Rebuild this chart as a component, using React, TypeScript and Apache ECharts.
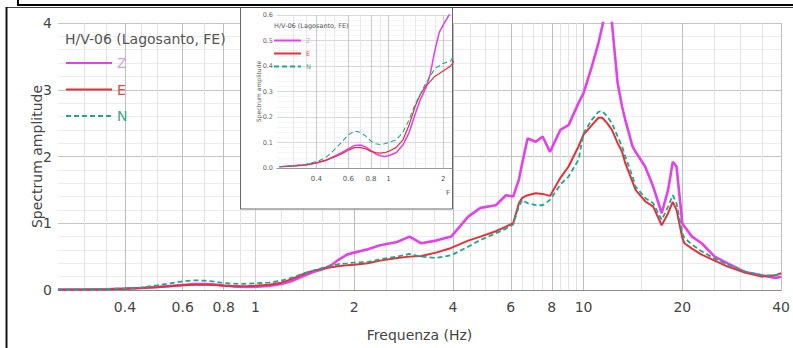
import React, { useEffect, useRef } from 'react';
import * as echarts from 'echarts';

const freq = [0.25, 0.3, 0.35, 0.4, 0.45, 0.5, 0.55, 0.6, 0.65, 0.7, 0.75, 0.8, 0.85, 0.9, 0.95, 1.0, 1.1, 1.2, 1.3, 1.4, 1.5, 1.6, 1.7, 1.8, 1.9, 2.0, 2.2, 2.4, 2.7, 2.95, 3.2, 3.55, 3.95, 4.45, 4.85, 5.4, 5.8, 6.1, 6.35, 6.5, 6.75, 7.15, 7.5, 7.9, 8.5, 9.0, 9.65, 10.0, 10.6, 11.1, 11.4, 11.8, 12.2, 12.7, 13.1, 13.4, 14.1, 14.4, 15.4, 16.3, 17.3, 18.1, 18.7, 19.2, 20.0, 20.3, 21.4, 22.9, 25.1, 27.5, 31, 34.9, 38.5, 40];
const ampZ = [0.005, 0.008, 0.012, 0.02, 0.03, 0.045, 0.06, 0.075, 0.088, 0.09, 0.082, 0.068, 0.055, 0.048, 0.045, 0.048, 0.06, 0.09, 0.14, 0.21, 0.27, 0.31, 0.37, 0.46, 0.53, 0.56, 0.61, 0.67, 0.72, 0.8, 0.7, 0.74, 0.8, 1.1, 1.23, 1.27, 1.42, 1.4, 1.65, 1.9, 2.27, 2.22, 2.3, 2.07, 2.4, 2.47, 2.8, 2.95, 3.35, 3.7, 3.95, 4.3, 4.0, 3.1, 2.75, 2.55, 2.15, 2.07, 1.85, 1.55, 1.15, 1.5, 1.92, 1.85, 1.0, 0.95, 0.8, 0.7, 0.5, 0.4, 0.27, 0.22, 0.18, 0.2];
const ampE = [0.005, 0.008, 0.012, 0.02, 0.03, 0.042, 0.055, 0.07, 0.08, 0.08, 0.075, 0.065, 0.06, 0.058, 0.06, 0.065, 0.08, 0.11, 0.17, 0.24, 0.29, 0.32, 0.34, 0.36, 0.37, 0.38, 0.4, 0.44, 0.48, 0.5, 0.51, 0.56, 0.63, 0.74, 0.8, 0.88, 0.95, 1.0, 1.3, 1.38, 1.42, 1.45, 1.44, 1.41, 1.68, 1.85, 2.15, 2.33, 2.47, 2.58, 2.58, 2.5, 2.4, 2.2, 2.07, 1.9, 1.62, 1.5, 1.33, 1.25, 0.97, 1.15, 1.32, 1.2, 0.78, 0.7, 0.62, 0.53, 0.44, 0.35, 0.26, 0.2, 0.22, 0.25];
const ampN = [0.005, 0.01, 0.015, 0.025, 0.04, 0.07, 0.1, 0.13, 0.145, 0.14, 0.125, 0.105, 0.095, 0.092, 0.095, 0.1, 0.11, 0.14, 0.19, 0.25, 0.29, 0.33, 0.36, 0.39, 0.4, 0.41, 0.42, 0.46, 0.5, 0.54, 0.5, 0.48, 0.52, 0.65, 0.75, 0.85, 0.92, 0.98, 1.25, 1.35, 1.3, 1.27, 1.27, 1.35, 1.58, 1.7, 1.95, 2.35, 2.55, 2.67, 2.68, 2.6, 2.5, 2.3, 2.15, 2.0, 1.7, 1.55, 1.38, 1.3, 1.05, 1.25, 1.42, 1.3, 0.85, 0.78, 0.68, 0.58, 0.47, 0.38, 0.28, 0.22, 0.22, 0.25];

const mainLabelFreqs = [0.4, 0.6, 0.8, 1, 2, 4, 6, 8, 10, 20, 40];
const gridFreqs = [0.3, 0.35, 0.4, 0.45, 0.5, 0.6, 0.7, 0.8, 0.9, 1, 1.2, 1.4, 1.6, 1.8, 2, 2.5, 3, 3.5, 4, 4.5, 5, 5.5, 6, 6.5, 7, 7.5, 8, 8.5, 9, 9.5, 10, 15, 20, 25, 30, 35, 40];
const insetLabelFreqs = [0.4, 0.6, 0.8, 1, 2];

const L = (f: number) => Math.log10(f);
const fmtFreq = (v: number) => String(Number(Math.pow(10, v).toPrecision(2)));
const FONT = 'DejaVu Sans';

const colZ = '#e044e6';
const colE = '#e5303c';
const colN = '#22a688';

function pairs(vals: number[], maxF: number) {
  const out: number[][] = [];
  for (let i = 0; i < freq.length; i++) {
    if (freq[i] <= maxF) out.push([L(freq[i]), vals[i]]);
  }
  return out;
}

export default function App() {
  const ref = useRef<HTMLDivElement>(null);
  useEffect(() => {
    if (!ref.current) return;
    const chart = echarts.init(ref.current, null, { renderer: 'svg' });
    const mainMin = L(0.25);
    const mainMax = L(40);
    const insMin = -0.615;
    const insMax = 0.35;
    const mainGrid = gridFreqs.filter((f) => L(f) >= mainMin && L(f) <= mainMax);
    const insGrid = gridFreqs.filter((f) => L(f) >= insMin && L(f) <= insMax);
    const gridColors = (arr: number[]) =>
      arr.map((f) => (mainLabelFreqs.indexOf(f) >= 0 ? '#bdbdbd' : '#e3e3e3'));

    const styleZ = { color: colZ, width: 2.6 };
    const styleE = { color: colE, width: 2 };
    const styleN = { color: colN, width: 1.8, type: [5, 3] as any };

    const mk = (name: string, vals: number[], ls: any, axis: number, maxF: number, z: number) => ({
      type: 'line',
      name,
      xAxisIndex: axis,
      yAxisIndex: axis,
      data: pairs(vals, maxF),
      showSymbol: false,
      symbol: 'none',
      lineStyle: axis === 1 ? { ...ls, width: ls.width * 0.6 } : ls,
      itemStyle: { color: ls.color },
      z,
      silent: true,
    });

    const hiddenSymbol = { color: 'transparent', borderColor: 'transparent', borderWidth: 0, opacity: 0 };

    chart.setOption({
      animation: false,
      title: [
        {
          text: 'H/V-06 (Lagosanto, FE)',
          left: 65,
          top: 32,
          padding: 0,
          textStyle: { fontFamily: FONT, fontSize: 14, fontWeight: 'normal', color: '#555' },
        },
        {
          text: 'H/V-06 (Lagosanto, FE)',
          left: 274,
          top: 22,
          padding: 0,
          z: 6,
          textStyle: { fontFamily: FONT, fontSize: 6.5, fontWeight: 'normal', color: '#555' },
        },
      ],
      legend: [
        {
          orient: 'vertical',
          left: 65,
          top: 56,
          padding: 0,
          itemWidth: 46,
          itemHeight: 14,
          itemGap: 12.5,
          selectedMode: false,
          itemStyle: hiddenSymbol,
          textStyle: { fontFamily: FONT, fontSize: 14 },
          data: [
            { name: 'Z', textStyle: { color: '#d79ee0' } },
            { name: 'E', textStyle: { color: '#e54848' } },
            { name: 'N', textStyle: { color: '#38a98a' } },
          ],
        },
        {
          orient: 'vertical',
          left: 273,
          top: 37,
          padding: 0,
          itemWidth: 27,
          itemHeight: 8,
          itemGap: 6,
          selectedMode: false,
          itemStyle: hiddenSymbol,
          z: 6,
          textStyle: { fontFamily: FONT, fontSize: 6.5 },
          data: [
            { name: 'Z', textStyle: { color: '#d79ee0' } },
            { name: 'E', textStyle: { color: '#e54848' } },
            { name: 'N', textStyle: { color: '#38a98a' } },
          ],
        },
      ],
      grid: [
        { left: 58, right: 6, top: 23, bottom: 58 },
        { left: 277, right: 341, top: 15, bottom: 180, z: 3 },
      ],
      xAxis: [
        {
          type: 'value',
          gridIndex: 0,
          min: mainMin,
          max: mainMax,
          name: 'Frequenza (Hz)',
          nameLocation: 'middle',
          nameGap: 38,
          nameMoveOverlap: false,
          nameTextStyle: { fontFamily: FONT, fontSize: 14, color: '#444' },
          axisLine: { show: true, lineStyle: { color: '#8a8a8a' } },
          axisTick: { show: false, customValues: mainGrid.map(L) },
          axisLabel: {
            customValues: mainLabelFreqs.map(L),
            formatter: fmtFreq,
            fontFamily: FONT,
            fontSize: 14,
            color: '#444',
            margin: 10,
          },
          splitLine: { show: true, lineStyle: { color: gridColors(mainGrid), width: 1 } },
        },
        {
          type: 'value',
          gridIndex: 1,
          min: insMin,
          max: insMax,
          z: 3,
          axisLine: { show: true, lineStyle: { color: '#999' } },
          axisTick: { show: false, customValues: insGrid.map(L) },
          axisLabel: {
            customValues: insetLabelFreqs.map(L),
            formatter: fmtFreq,
            fontFamily: FONT,
            fontSize: 7,
            color: '#555',
            margin: 7,
          },
          splitLine: { show: true, lineStyle: { color: gridColors(insGrid), width: 0.8 } },
        },
      ],
      yAxis: [
        {
          type: 'value',
          gridIndex: 0,
          min: 0,
          max: 4,
          interval: 1,
          name: 'Spectrum amplitude',
          nameLocation: 'middle',
          nameGap: 14,
          nameMoveOverlap: false,
          nameTextStyle: { fontFamily: FONT, fontSize: 14, color: '#444' },
          axisLine: { show: true, lineStyle: { color: '#d0d0d0' } },
          axisTick: { show: false },
          axisLabel: { fontFamily: FONT, fontSize: 14, color: '#444', margin: 6 },
          splitLine: { show: true, lineStyle: { color: '#c4c4c4' } },
          minorTick: { show: false, splitNumber: 5 },
          minorSplitLine: { show: true, lineStyle: { color: '#ececec' } },
        },
        {
          type: 'value',
          gridIndex: 1,
          min: 0,
          max: 0.6,
          interval: 0.1,
          z: 3,
          name: 'Spectrum amplitude',
          nameLocation: 'middle',
          nameGap: 16,
          nameMoveOverlap: false,
          nameTextStyle: { fontFamily: FONT, fontSize: 6, color: '#555' },
          axisLine: { show: false },
          axisTick: { show: false },
          axisLabel: {
            fontFamily: FONT,
            fontSize: 6.5,
            color: '#666',
            margin: 4,
            formatter: (v: number) => v.toFixed(1),
          },
          splitLine: { show: true, lineStyle: { color: '#cfcfcf', width: 0.8 } },
          minorTick: { show: false, splitNumber: 5 },
          minorSplitLine: { show: true, lineStyle: { color: '#efefef', width: 0.6 } },
        },
      ],
      graphic: [
        { type: 'rect', z: 1, shape: { x: 240.5, y: 7.5, width: 212, height: 201.5 }, style: { fill: '#fff', stroke: '#666', lineWidth: 1 } },
        { type: 'line', z: 10, shape: { x1: 6, y1: 7.5, x2: 793, y2: 7.5 }, style: { stroke: '#444', lineWidth: 1 } },
        { type: 'line', z: 10, shape: { x1: 17, y1: 5, x2: 793, y2: 5 }, style: { stroke: '#000', lineWidth: 2 } },
        { type: 'line', z: 10, shape: { x1: 18, y1: 0, x2: 18, y2: 6 }, style: { stroke: '#000', lineWidth: 2 } },
        { type: 'line', z: 10, shape: { x1: 6.5, y1: 7, x2: 6.5, y2: 348 }, style: { stroke: '#111', lineWidth: 2 } },
        { type: 'text', z: 6, x: 446, y: 189, style: { text: 'F', fontFamily: FONT, fontSize: 7, fill: '#555' } },
      ],
      series: [
        mk('Z', ampZ, styleZ, 0, 100, 2),
        mk('E', ampE, styleE, 0, 100, 2),
        mk('N', ampN, styleN, 0, 100, 2),
        mk('Z', ampZ, styleZ, 1, 2.5, 4),
        mk('E', ampE, styleE, 1, 2.5, 4),
        mk('N', ampN, styleN, 1, 2.5, 4),
      ],
    });
    return () => chart.dispose();
  }, []);
  return <div ref={ref} style={{ width: 793, height: 348, position: 'fixed', left: 0, top: 0, background: '#fff' }} />;
}
